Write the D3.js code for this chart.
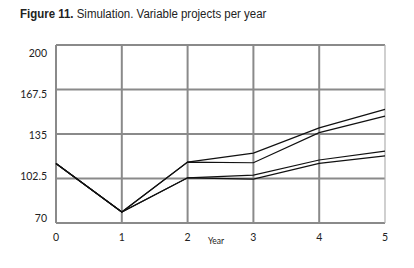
<!DOCTYPE html>
<html>
<head>
<meta charset="utf-8">
<script src="https://cdn.jsdelivr.net/npm/d3@7"></script>
<style>
  body { margin: 0; background: #fff; }
</style>
</head>
<body>
<svg id="chart" width="414" height="268"></svg>
<script>
// Data
const years = [0, 1, 2, 3, 4, 5];
const yTicks = [70, 102.5, 135, 167.5, 200];
const seriesA = [113.5, 78, 114.5, 121, 139.5, 153];
const seriesB = [113.5, 78, 114.5, 114, 136, 148];
const seriesC = [113.5, 78, 103, 105, 116, 122.5];
const seriesD = [113.5, 78, 103, 102, 113.5, 119];
const allSeries = [seriesA, seriesB, seriesC, seriesD];

const svg = d3.select("#chart");
const labelFont = "Lato, Carlito, 'Liberation Sans', sans-serif";

// Title (condensed, like Arial Narrow)
const title = svg.append("text")
    .attr("transform", "translate(20,18) scale(0.85,1)")
    .attr("font-family", "'Liberation Sans', Arial, sans-serif")
    .attr("font-size", "13.5px")
    .attr("fill", "#222");
title.append("tspan").attr("font-weight", "bold").text("Figure 11.");
title.append("tspan").text(" Simulation. Variable projects per year");

// Scales
const x = d3.scaleLinear().domain([0, 5]).range([56, 385]);
const y = d3.scaleLinear().domain([70, 200]).range([223, 45]);
// tick labels sit slightly off the grid lines in the original
const yLabel = d3.scaleLinear().domain([70, 200]).range([218, 53]);

// Horizontal grid lines
svg.selectAll(".hgrid")
    .data(yTicks)
    .enter().append("line")
    .attr("class", "hgrid")
    .attr("x1", x(0))
    .attr("x2", x(5))
    .attr("y1", function(d) { return y(d); })
    .attr("y2", function(d) { return y(d); })
    .attr("stroke", "#8a8a8a")
    .attr("stroke-width", 2);

// Vertical grid lines
svg.selectAll(".vgrid")
    .data(years)
    .enter().append("line")
    .attr("class", "vgrid")
    .attr("x1", function(d) { return x(d); })
    .attr("x2", function(d) { return x(d); })
    .attr("y1", y(200))
    .attr("y2", y(70))
    .attr("stroke", function(d) { return d === 5 ? "#b0b0b0" : "#8a8a8a"; })
    .attr("stroke-width", function(d) { return d === 5 ? 1.2 : 2; });

// Y tick labels
svg.selectAll(".ylab")
    .data(yTicks)
    .enter().append("text")
    .attr("class", "ylab")
    .attr("x", 47)
    .attr("y", function(d) { return yLabel(d); })
    .attr("dy", "0.35em")
    .attr("text-anchor", "end")
    .attr("font-family", labelFont)
    .attr("font-size", "10.5px")
    .attr("fill", "#222")
    .text(function(d) { return d; });

// X tick labels
svg.selectAll(".xlab")
    .data(years)
    .enter().append("text")
    .attr("class", "xlab")
    .attr("x", function(d) { return x(d); })
    .attr("y", 237)
    .attr("dy", "0.35em")
    .attr("text-anchor", "middle")
    .attr("font-family", labelFont)
    .attr("font-size", "10.5px")
    .attr("fill", "#222")
    .text(function(d) { return d; });

// Axis title
svg.append("text")
    .attr("x", 216)
    .attr("y", 241)
    .attr("dy", "0.35em")
    .attr("text-anchor", "middle")
    .attr("font-family", labelFont)
    .attr("font-size", "8.5px")
    .attr("fill", "#222")
    .text("Year");

// Series lines
const line = d3.line()
    .x(function(d, i) { return x(years[i]); })
    .y(function(d) { return y(d); });

svg.selectAll(".series")
    .data(allSeries)
    .enter().append("path")
    .attr("class", "series")
    .attr("d", line)
    .attr("fill", "none")
    .attr("stroke", "#111")
    .attr("stroke-width", 1.2);
</script>
</body>
</html>
